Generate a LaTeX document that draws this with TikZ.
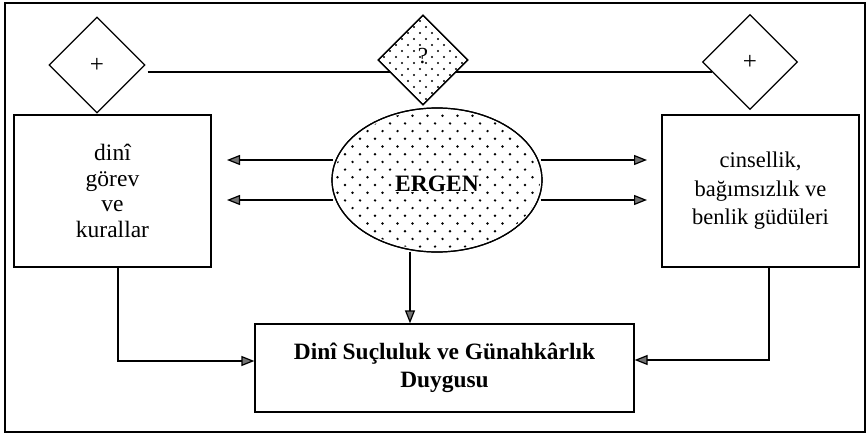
\documentclass[tikz,border=0pt]{standalone}
\usepackage{fontspec}
\setmainfont{Liberation Serif}
\usetikzlibrary{shapes.geometric,arrows.meta,calc}
\begin{document}
\begin{tikzpicture}[x=1pt,y=-1pt,
  line width=1.2pt,
  tip/.style={-{Triangle[length=13pt,width=10pt,fill=black!55]}},
  box/.style={draw, line width=1.2pt, inner sep=0pt, align=center},
  dia/.style={draw, diamond, aspect=1, inner sep=0pt, font=\fontsize{25}{27}\selectfont},
]
\useasboundingbox (0,0) rectangle (868,434);
% outer frame
\draw[line width=1.2pt] (5,3) rectangle (865,432);
\draw[line width=2.2pt] (5,432) -- (865,432);

% diamonds
\node[dia, minimum size=96pt] (l) at (97,65) {+};
\node[dia, minimum size=95pt] (r) at (750,62) {+};
\draw ([shift={(2,7)}]l.east) -- ([shift={(10,10)}]r.west);
\node[dia, fill=white, minimum size=90pt] (q) at (423,60) {};
\begin{scope}
  \clip (q.north) -- (q.east) -- (q.south) -- (q.west) -- cycle;
  \foreach \i in {0,...,8} \foreach \j in {0,...,8} {
    \fill (378+\i*12, 15+\j*12) circle (1.2pt);
    \fill (384+\i*12, 21+\j*12) circle (1.2pt);
  }
\end{scope}
\node[dia, minimum size=90pt] at (q) {};
\node[font=\fontsize{23}{25}\selectfont, inner sep=0.5pt] (qm) at (423,56) {?};

% boxes
\node[box, minimum width=197pt, minimum height=152pt,
      font=\fontsize{23.5}{25.5}\selectfont] (a) at (112.5,191) {dinî\\görev\\ve\\kurallar};
\node[box, minimum width=197pt, minimum height=152pt,
      font=\fontsize{22.5}{28.5}\selectfont] (b) at (760.5,191) {cinsellik,\\bağımsızlık ve\\benlik güdüleri};
\node[box, minimum width=379pt, minimum height=88pt,
      font=\bfseries\fontsize{23.4}{28.5}\selectfont] (c) at (444.5,368) {Dinî Suçluluk ve Günahkârlık\\Duygusu};

% ellipse
\node[draw, ellipse, fill=white, minimum width=210pt, minimum height=144pt, inner sep=0pt] (e) at (437,180) {};
\begin{scope}
  \clip (437,180) ellipse [x radius=103pt, y radius=70pt];
  \foreach \i in {0,...,15} \foreach \j in {0,...,10} {
    \fill (330+\i*15, 108+\j*15.4) circle (1.35pt);
    \fill (337.5+\i*15, 115.7+\j*15.4) circle (1.35pt);
  }
\end{scope}
\node[draw, ellipse, minimum width=210pt, minimum height=144pt, inner sep=0pt] at (e) {};
\node[font=\bfseries\fontsize{23.5}{26}\selectfont, fill=white, inner sep=0pt] (t) at (437,184) {ERGEN};

% arrows from ellipse to boxes
\coordinate (al1) at (227,160);
\coordinate (al2) at (227,200);
\coordinate (ar1) at (647,160);
\coordinate (ar2) at (647,200);
\draw[tip] (e.west |- al1) ++(2,0) coordinate (s1) -- (al1);
\draw[tip] (e.west |- al2) ++(2,0) coordinate (s2) -- (al2);
\draw[tip] (e.east |- ar1) ++(-2,0) coordinate (s3) -- (ar1);
\draw[tip] (e.east |- ar2) ++(-2,0) coordinate (s4) -- (ar2);

% ellipse down to result
\draw[tip] (e.south -| 410,0) ++(0,-1) -- (c.north -| 410,0);

% elbows
\draw[tip] (a.south -| 118,0) |- (c.west |- 0,361);
\draw[tip] (b.south -| 769,0) |- (c.east |- 0,360);
\end{tikzpicture}
\end{document}
